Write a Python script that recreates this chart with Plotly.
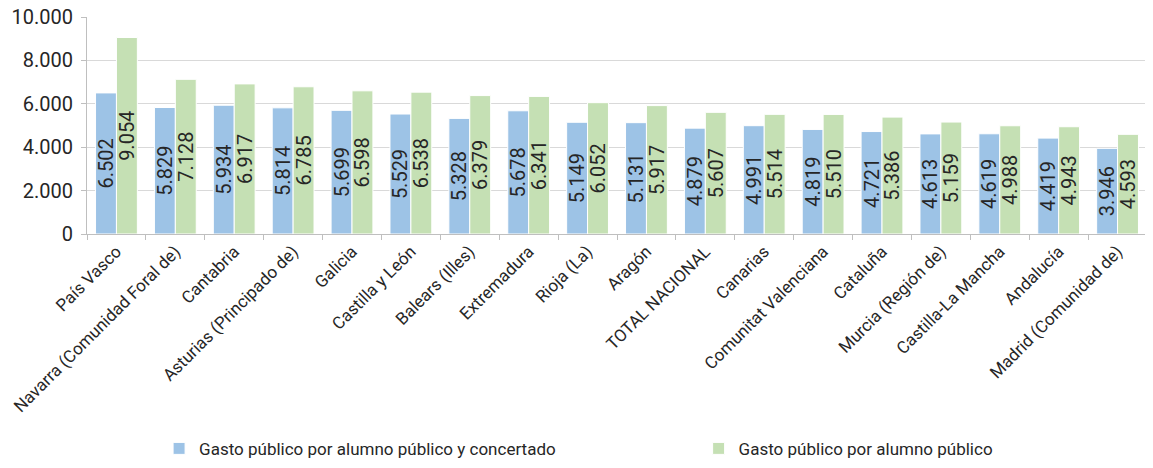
import plotly.graph_objects as go

# Datos: gasto público por alumno (euros)
regiones = [
    "País Vasco", "Navarra (Comunidad Foral de)", "Cantabria",
    "Asturias (Principado de)", "Galicia", "Castilla y León",
    "Balears (Illes)", "Extremadura", "Rioja (La)", "Aragón",
    "TOTAL NACIONAL", "Canarias", "Comunitat Valenciana", "Cataluña",
    "Murcia (Región de)", "Castilla-La Mancha", "Andalucía",
    "Madrid (Comunidad de)",
]
gasto_publico_concertado = [6502, 5829, 5934, 5814, 5699, 5529, 5328, 5678, 5149,
                            5131, 4879, 4991, 4819, 4721, 4613, 4619, 4419, 3946]
gasto_publico = [9054, 7128, 6917, 6785, 6598, 6538, 6379, 6341, 6052,
                 5917, 5607, 5514, 5510, 5386, 5159, 4988, 4943, 4593]

y_ticks = [0, 2000, 4000, 6000, 8000, 10000]

FONT = "Roboto, Liberation Sans, sans-serif"
TXT = "#262626"

fig = go.Figure()

fig.add_trace(go.Bar(
    x=regiones, y=gasto_publico_concertado,
    name="Gasto público por alumno público y concertado",
    marker=dict(color="#9DC3E6", line=dict(color="#FFFFFF", width=1)),
    text=gasto_publico_concertado, texttemplate="%{y:,.0f}",
    textposition="inside", insidetextanchor="middle", textangle=-90,
    textfont=dict(size=20, color=TXT, family=FONT),
    legend="legend",
))
fig.add_trace(go.Bar(
    x=regiones, y=gasto_publico,
    name="Gasto público por alumno público",
    marker=dict(color="#C5E0B4", line=dict(color="#FFFFFF", width=1)),
    text=gasto_publico, texttemplate="%{y:,.0f}",
    textposition="inside", insidetextanchor="middle", textangle=-90,
    textfont=dict(size=20, color=TXT, family=FONT),
    legend="legend2",
))

legend_style = dict(
    orientation="h", yanchor="middle", y=-0.99, xanchor="left",
    font=dict(size=17, family=FONT, color=TXT), bgcolor="rgba(0,0,0,0)",
)

# la página añade 8px de margen al cuerpo: se descuentan aquí
fig.update_layout(
    width=1153, height=468,
    margin=dict(l=79, r=14, t=9, b=240),
    paper_bgcolor="white", plot_bgcolor="white",
    font=dict(family=FONT, color=TXT, size=18),
    separators=",.",
    barmode="group", bargap=0.29, bargroupgap=0,
    uniformtext=dict(mode="show", minsize=20),
    showlegend=True,
    legend=dict(x=0.068, **legend_style),
    legend2=dict(x=0.577, **legend_style),
)

fig.update_xaxes(
    tickangle=-45, tickfont=dict(size=17, family=FONT, color=TXT),
    showline=True, linecolor="#BFBFBF", linewidth=1,
    ticks="outside", tickson="boundaries", ticklen=5, tickcolor="#BFBFBF",
    showgrid=False, automargin=False,
)
fig.update_yaxes(
    range=[0, 10000], tickvals=y_ticks, tickformat=",.0f",
    tickfont=dict(size=20, family=FONT, color=TXT),
    ticklabeloverflow="allow", ticklabelstandoff=4,
    showgrid=True, gridcolor="#D9D9D9", gridwidth=1,
    showline=True, linecolor="#BFBFBF", linewidth=1,
    ticks="outside", ticklen=5, tickcolor="#BFBFBF",
    zeroline=False, automargin=False,
)

fig.write_html("out.html")
